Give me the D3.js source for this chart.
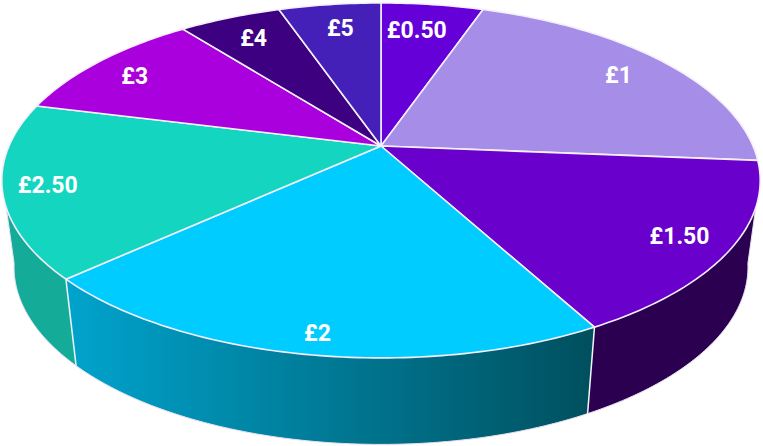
<!DOCTYPE html>
<html>
<head>
<meta charset="utf-8">
<script src="https://cdn.jsdelivr.net/npm/d3@7/dist/d3.min.js"></script>
<style>
html, body { margin: 0; padding: 0; background: #fff; }
svg { display: block; }
</style>
</head>
<body>
<div id="chart-area"></div>
<script>
var categories = ["£0.50", "£1", "£1.50", "£2", "£2.50", "£3", "£4", "£5"];
var values = [1, 4, 3, 4, 3, 2, 1, 1];
var topColors = ["#6500d8", "#a58de8", "#6a00cc", "#00ccff", "#14d6c0", "#aa00dd", "#3d0080", "#4520b8"];
var sideColors = [null, null, "#2c0050", "url(#side-2)", "#14ab98", null, null, null];

var width = 763, height = 446;
var cx = 381, cy = 146;
var persp = 0.194;          // how much the near edge of the disc is enlarged
var visible = [100, 260];   // front part of the rim, degrees clockwise from top
var labelRadius = [0.79, 0.83, 0.87, 0.914, 0.885, 0.848, 0.82, 0.808];
var labelTurn = [-1.4, 0, 0, -0.6, 0, -1.2, 0, 0.5]; // degrees off the slice middle

var svg = d3.select("#chart-area")
    .append("svg")
    .attr("width", width)
    .attr("height", height);

// unit disc to screen, the lower face is a bit narrower and shifted down
var xTop = d3.scaleLinear().domain([-1, 1]).range([cx - 372, cx + 372]);
var yTop = d3.scaleLinear().domain([-1, 1]).range([cy - 170.8, cy + 170.8]);
var xBottom = d3.scaleLinear().domain([-1, 1]).range([cx - 360, cx + 360]);
var yBottom = d3.scaleLinear().domain([-1, 1]).range([cy - 170.8 + 86.5, cy + 170.8 + 86.5]);

function project(angle, r, sx, sy) {
    var u = r * Math.sin(angle), v = -r * Math.cos(angle);
    var s = 1 / (1 - persp * v);
    return [sx(u * s), sy(v * s)];
}

function arcPoints(a0, a1, sx, sy) {
    var n = Math.max(2, Math.ceil(Math.abs(a1 - a0) * 60));
    return d3.range(n + 1).map(function(i) {
        return project(a0 + (a1 - a0) * i / n, 1, sx, sy);
    });
}

var line = d3.line();

var pie = d3.pie().sort(null).value(function(d) { return d; });
var slices = pie(values);

var rad = d3.scaleLinear().domain([0, 360]).range([0, 2 * Math.PI]);

var defs = svg.append("defs");
var grad = defs.append("linearGradient")
    .attr("id", "side-2")
    .attr("gradientUnits", "userSpaceOnUse")
    .attr("x1", 70).attr("x2", 590)
    .attr("y1", 0).attr("y2", 0);
grad.append("stop").attr("offset", "0%").attr("stop-color", "#00a3cc");
grad.append("stop").attr("offset", "100%").attr("stop-color", "#00505f");

// rim
var g = svg.append("g");
slices.forEach(function(d, i) {
    if (!sideColors[i]) return;
    var a0 = Math.max(d.startAngle, rad(visible[0]));
    var a1 = Math.min(d.endAngle, rad(visible[1]));
    var pts = arcPoints(a0, a1, xTop, yTop)
        .concat(arcPoints(a1, a0, xBottom, yBottom));
    g.append("path")
        .attr("d", line(pts) + "Z")
        .attr("fill", sideColors[i])
        .attr("stroke", "none");
});

// thin light outline around the rim and the seams between its parts
var rimEdge = arcPoints(rad(visible[0]), rad(visible[1]), xBottom, yBottom);
g.append("path")
    .attr("d", line([project(rad(visible[0]), 1, xTop, yTop)].concat(rimEdge, [project(rad(visible[1]), 1, xTop, yTop)])))
    .attr("fill", "none")
    .attr("stroke", "#e6e0f0")
    .attr("stroke-width", 1);

slices.forEach(function(d, i) {
    if (!sideColors[i] || !sideColors[i - 1]) return;
    g.append("path")
        .attr("d", line([
            project(d.startAngle, 1, xTop, yTop),
            project(d.startAngle, 1, xBottom, yBottom)
        ]))
        .attr("stroke", "#f2f6f8")
        .attr("stroke-width", 1.5)
        .attr("fill", "none");
});

// top face
svg.append("g").selectAll("path")
    .data(slices)
    .enter()
    .append("path")
        .attr("d", function(d) {
            var pts = [[cx, cy]].concat(arcPoints(d.startAngle, d.endAngle, xTop, yTop));
            return line(pts) + "Z";
        })
        .attr("fill", function(d, i) { return topColors[i]; })
        .attr("stroke", "#f4effa")
        .attr("stroke-width", 1.6)
        .attr("stroke-linejoin", "round");

function labelPos(d, i) {
    var a = (d.startAngle + d.endAngle) / 2 + rad(labelTurn[i]);
    return project(a, labelRadius[i], xTop, yTop);
}

svg.append("g").selectAll("text")
    .data(slices)
    .enter()
    .append("text")
        .attr("x", function(d, i) { return labelPos(d, i)[0]; })
        .attr("y", function(d, i) { return labelPos(d, i)[1]; })
        .attr("dy", "0.36em")
        .attr("text-anchor", "middle")
        .attr("font-family", "Roboto, sans-serif")
        .attr("font-weight", "700")
        .attr("font-size", "23px")
        .attr("fill", "#fff")
        .text(function(d, i) { return categories[i]; });
</script>
</body>
</html>
